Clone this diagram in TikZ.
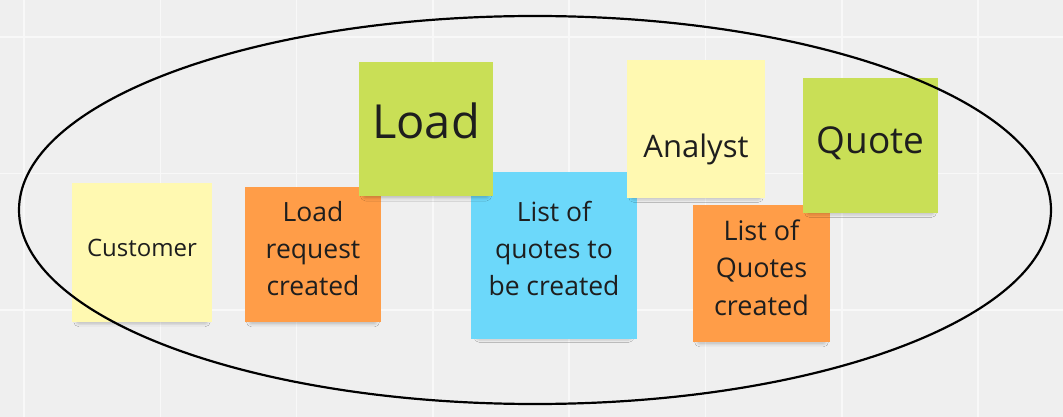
\documentclass[tikz,border=0pt]{standalone}
\usepackage{fontspec}
\setmainfont{Open Sans}
\usepackage{xcolor}
\usetikzlibrary{positioning,shadows.blur}

\definecolor{board}{HTML}{EFEFEF}
\definecolor{boardgrid}{HTML}{F8F8F8}
\definecolor{noteyellow}{HTML}{FFF9B1}
\definecolor{noteorange}{HTML}{FF9D48}
\definecolor{notegreen}{HTML}{C9DF56}
\definecolor{noteblue}{HTML}{6CD8FA}
\definecolor{noteink}{HTML}{1E1E1E}

\begin{document}
\begin{tikzpicture}[x=1pt,y=-1pt,
   sticky/.style={rectangle,inner sep=0pt,outer sep=0pt,align=center,text=noteink,
     blur shadow={shadow xshift=0pt,shadow yshift=-7pt,shadow blur radius=6pt,
       shadow opacity=45,shadow scale=0.9}},
   notesize/.style 2 args={minimum width=#1,minimum height=#2},
   yellow note/.style={sticky,fill=noteyellow},
   orange note/.style={sticky,fill=noteorange},
   green note/.style={sticky,fill=notegreen},
   blue note/.style={sticky,fill=noteblue}]

  \useasboundingbox[fill=board] (0,0) rectangle (1063,417);
  \foreach \gx in {0,...,7}
    \draw[boardgrid,line width=1.5pt] ({24+136.3*\gx},0) -- ({24+136.3*\gx},417);
  \foreach \gy in {0,1,2}
    \draw[boardgrid,line width=1.5pt] (0,{37+136.5*\gy}) -- (1063,{37+136.5*\gy});

  % lower row of events
  \node[yellow note,notesize={140pt}{139pt},font=\fontsize{24}{30}\selectfont,
        text height=8.4pt,text depth=0pt] (customer) at (142,252.5) {Customer};
  \node[orange note,notesize={136pt}{135pt},font=\fontsize{26.5}{37}\selectfont,
        text height=81pt,text depth=0pt] (loadrequest) [right=33pt of customer,yshift=-2pt]
        {Load\\request\\created};
  \node[blue note,notesize={166pt}{167pt},font=\fontsize{26.5}{37}\selectfont,
        text height=79pt,text depth=0pt] (quotestodo) [right=90pt of loadrequest,yshift=-1pt]
        {List of\\quotes to\\be created};
  \node[orange note,notesize={137pt}{137pt},font=\fontsize{27}{37.5}\selectfont,
        text height=83pt,text depth=0pt] (quotesdone) [right=56pt of quotestodo,yshift=-18pt]
        {List of\\Quotes\\created};

  % upper row
  \node[green note,notesize={134pt}{134pt},font=\fontsize{47}{56}\selectfont,
        text height=18.6pt,text depth=0pt] (load) at (426,129) {Load};
  \node[yellow note,notesize={138pt}{137pt},font=\fontsize{31}{38}\selectfont,
        text height=56.4pt,text depth=0pt] (analyst) [right=134pt of load] {Analyst};
  \node[green note,notesize={135pt}{134pt},font=\fontsize{37}{44}\selectfont,
        text height=15.4pt,text depth=0pt] (quote) [right=38pt of analyst,yshift=-16.5pt] {Quote};

  \draw[line width=2.2pt] (535,210) ellipse [x radius=516,y radius=194];
\end{tikzpicture}
\end{document}
